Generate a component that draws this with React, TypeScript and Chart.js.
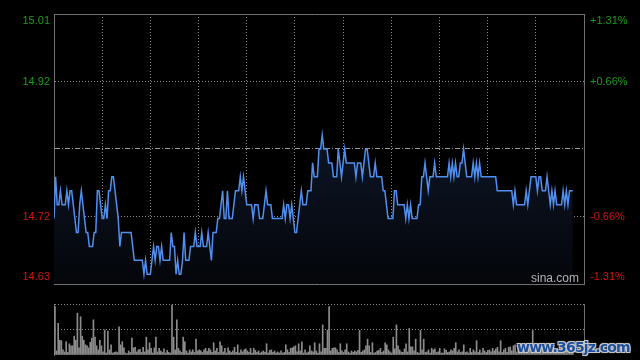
import React, { useEffect, useRef } from 'react';
import { Chart, registerables } from 'chart.js';

Chart.register(...registerables);

const PRICE_MIN = 14.626;
const PRICE_MAX = 15.014;
const SESSION_MINUTES = 330;
const VOLUME_MAX = 100;

const priceLabels = ['14.63', '14.72', '', '14.92', '15.01'];
const percentLabels = ['-1.31%', '-0.66%', '', '+0.66%', '+1.31%'];

// one value per trading minute (HK session, 330 minutes)
const prices = [
  14.72, 14.78, 14.74, 14.74, 14.76, 14.74, 14.74, 14.74, 14.76, 14.74,
  14.76, 14.76, 14.74, 14.72, 14.70, 14.70, 14.74, 14.76, 14.74, 14.72,
  14.70, 14.70, 14.68, 14.68, 14.68, 14.70, 14.70, 14.76, 14.76, 14.74,
  14.72, 14.72, 14.74, 14.72, 14.76, 14.76, 14.78, 14.78, 14.76, 14.74,
  14.72, 14.68, 14.70, 14.70, 14.70, 14.70, 14.70, 14.70, 14.70, 14.68,
  14.66, 14.66, 14.66, 14.66, 14.66, 14.66, 14.64, 14.66, 14.64, 14.64,
  14.64, 14.66, 14.68, 14.66, 14.68, 14.68, 14.66, 14.68, 14.66, 14.66,
  14.66, 14.66, 14.66, 14.70, 14.68, 14.68, 14.64, 14.66, 14.64, 14.64,
  14.66, 14.70, 14.66, 14.66, 14.66, 14.68, 14.68, 14.68, 14.70, 14.68,
  14.68, 14.68, 14.70, 14.68, 14.68, 14.68, 14.70, 14.68, 14.66, 14.70,
  14.70, 14.70, 14.72, 14.72, 14.74, 14.76, 14.72, 14.72, 14.76, 14.72,
  14.72, 14.72, 14.74, 14.76, 14.76, 14.76, 14.78, 14.76, 14.78, 14.76,
  14.74, 14.74, 14.74, 14.74, 14.72, 14.74, 14.74, 14.74, 14.72, 14.72,
  14.72, 14.74, 14.76, 14.74, 14.74, 14.74, 14.72, 14.72, 14.72, 14.72,
  14.72, 14.72, 14.72, 14.74, 14.72, 14.74, 14.74, 14.72, 14.74, 14.72,
  14.70, 14.70, 14.72, 14.74, 14.76, 14.74, 14.74, 14.74, 14.76, 14.76,
  14.76, 14.80, 14.78, 14.78, 14.78, 14.82, 14.82, 14.84, 14.82, 14.82,
  14.82, 14.80, 14.80, 14.80, 14.78, 14.78, 14.78, 14.82, 14.80, 14.78,
  14.80, 14.82, 14.80, 14.80, 14.80, 14.80, 14.80, 14.80, 14.78, 14.80,
  14.80, 14.80, 14.78, 14.80, 14.82, 14.82, 14.80, 14.78, 14.78, 14.78,
  14.80, 14.78, 14.78, 14.78, 14.78, 14.76, 14.76, 14.74, 14.72, 14.72,
  14.72, 14.72, 14.76, 14.76, 14.74, 14.74, 14.74, 14.74, 14.74, 14.72,
  14.74, 14.72, 14.74, 14.72, 14.72, 14.72, 14.72, 14.74, 14.74, 14.78,
  14.78, 14.80, 14.78, 14.76, 14.78, 14.78, 14.78, 14.80, 14.78, 14.78,
  14.78, 14.78, 14.78, 14.78, 14.78, 14.78, 14.80, 14.78, 14.80, 14.78,
  14.80, 14.78, 14.78, 14.80, 14.80, 14.82, 14.80, 14.78, 14.78, 14.78,
  14.78, 14.80, 14.78, 14.80, 14.78, 14.80, 14.78, 14.78, 14.78, 14.78,
  14.78, 14.78, 14.78, 14.78, 14.78, 14.78, 14.76, 14.76, 14.76, 14.76,
  14.76, 14.76, 14.76, 14.76, 14.76, 14.76, 14.74, 14.76, 14.74, 14.74,
  14.74, 14.74, 14.74, 14.74, 14.76, 14.74, 14.76, 14.78, 14.78, 14.78,
  14.78, 14.76, 14.78, 14.78, 14.76, 14.76, 14.76, 14.78, 14.76, 14.74,
  14.76, 14.74, 14.76, 14.74, 14.74, 14.74, 14.74, 14.76, 14.74, 14.76,
  14.74, 14.76, 14.76, 14.76,
];

// relative volume per minute (100 = top of the volume panel)
const volumes = [
  95, 8, 62, 29, 28, 10, 6, 26, 5, 22,
  18, 18, 37, 29, 82, 14, 75, 37, 29, 20,
  18, 14, 25, 33, 69, 35, 18, 10, 29, 18,
  6, 49, 4, 47, 10, 20, 4, 5, 6, 5,
  55, 20, 26, 14, 4, 3, 8, 5, 33, 14,
  15, 6, 10, 11, 5, 15, 6, 35, 10, 24,
  13, 4, 14, 35, 6, 13, 8, 5, 12, 4,
  9, 5, 4, 98, 35, 10, 69, 13, 8, 5,
  35, 26, 8, 4, 10, 6, 10, 5, 31, 8,
  10, 8, 5, 10, 13, 7, 13, 10, 5, 24,
  8, 13, 5, 26, 18, 6, 13, 4, 14, 8,
  5, 8, 15, 5, 20, 4, 10, 6, 10, 12,
  8, 5, 13, 4, 13, 9, 5, 8, 4, 6,
  8, 5, 22, 4, 9, 10, 5, 8, 4, 6,
  4, 8, 4, 5, 20, 10, 5, 13, 14, 16,
  18, 6, 22, 8, 26, 4, 10, 4, 6, 18,
  8, 6, 24, 8, 4, 22, 6, 59, 13, 13,
  49, 95, 8, 13, 14, 14, 10, 5, 22, 8,
  5, 10, 22, 6, 4, 8, 5, 8, 6, 9,
  48, 5, 8, 10, 18, 31, 18, 5, 24, 4,
  5, 8, 9, 13, 5, 8, 24, 20, 10, 6,
  4, 35, 12, 59, 18, 10, 6, 5, 12, 22,
  6, 52, 16, 16, 8, 31, 5, 4, 48, 10,
  31, 5, 6, 10, 4, 13, 10, 12, 5, 6,
  13, 4, 4, 12, 9, 5, 6, 10, 8, 13,
  24, 6, 10, 5, 6, 20, 5, 6, 4, 13,
  5, 10, 6, 28, 5, 10, 4, 13, 8, 5,
  9, 10, 6, 13, 8, 12, 15, 6, 28, 5,
  10, 13, 5, 15, 16, 8, 18, 20, 6, 12,
  8, 6, 14, 10, 5, 8, 12, 6, 48, 10,
  8, 12, 6, 10, 14, 8, 5, 10, 12, 6,
  9, 14, 8, 6, 10, 12, 5, 8, 14, 10,
  6, 9, 12, 8,
];

const GREEN = '#1a9c1a';
const RED = '#d01515';
const BORDER = '#707070';
const GRID = '#8a8a8a';
const FONT = { family: "'Liberation Sans', Arial, sans-serif", size: 11, lineHeight: 1.2 };

function quarterTicks(min: number, max: number) {
  return [0, 1, 2, 3, 4].map((i) => ({ value: min + ((max - min) * i) / 4 }));
}

function edgeLabel(text: string, index: number): string | string[] {
  if (index === 4) return ['', text];
  if (index === 0) return [text, ''];
  return text;
}

export default function App() {
  const priceRef = useRef<HTMLCanvasElement | null>(null);
  const volRef = useRef<HTMLCanvasElement | null>(null);

  useEffect(() => {
    const priceData = prices.map((p, i) => ({ x: i, y: p }));
    const volData = volumes.map((v, i) => ({ x: i, y: v }));

    const priceChart = new Chart(priceRef.current as HTMLCanvasElement, {
      type: 'line',
      data: {
        datasets: [
          {
            data: priceData,
            borderColor: '#4f8ff0',
            borderWidth: 1.5,
            pointRadius: 0,
            tension: 0,
            fill: 'start',
            backgroundColor: (c: any) => {
              const { ctx, chartArea } = c.chart;
              if (!chartArea) return 'rgba(0,0,0,0)';
              const g = ctx.createLinearGradient(0, chartArea.top, 0, chartArea.bottom);
              g.addColorStop(0, '#142038');
              g.addColorStop(0.45, '#0d1526');
              g.addColorStop(1, '#04060a');
              return g;
            },
          },
        ],
      },
      options: {
        responsive: false,
        animation: false,
        events: [],
        layout: { padding: { top: 14, bottom: 16, left: 0, right: 0 } },
        plugins: { legend: { display: false }, tooltip: { enabled: false } },
        scales: {
          x: {
            type: 'linear',
            position: 'bottom',
            min: 0,
            max: SESSION_MINUTES,
            ticks: { display: false, stepSize: 30 },
            afterBuildTicks: (s: any) => {
              s.ticks = Array.from({ length: 12 }, (_, i) => ({ value: i * 30 }));
            },
            afterFit: (s: any) => {
              s.height = 0;
            },
            grid: {
              drawTicks: false,
              color: (c: any) =>
                c.index === 0 || c.index === 11 ? 'rgba(0,0,0,0)' : GRID,
              lineWidth: 1,
            },
            border: { display: true, color: BORDER, width: 1, dash: [1, 2] },
          },
          xTop: {
            type: 'linear',
            position: 'top',
            min: 0,
            max: SESSION_MINUTES,
            ticks: { display: false },
            grid: { display: false, drawTicks: false },
            afterFit: (s: any) => {
              s.height = 0;
            },
            border: { display: true, color: BORDER, width: 1 },
          },
          y: {
            type: 'linear',
            position: 'left',
            min: PRICE_MIN,
            max: PRICE_MAX,
            afterBuildTicks: (s: any) => {
              s.ticks = quarterTicks(PRICE_MIN, PRICE_MAX);
            },
            afterFit: (s: any) => {
              s.width = 54;
            },
            ticks: {
              padding: 0,
              font: FONT,
              color: (c: any) => (c.index >= 2 ? GREEN : RED),
              callback: (_v: any, i: number) => edgeLabel(priceLabels[i], i),
            },
            grid: {
              drawTicks: true,
              tickLength: 4,
              tickColor: 'rgba(0,0,0,0)',
              color: (c: any) =>
                c.index === 0 || c.index === 4 ? 'rgba(0,0,0,0)' : c.index === 2 ? '#9a9a9a' : GRID,
              lineWidth: 1,
            },
            border: {
              display: true,
              color: BORDER,
              width: 1,
              dash: (c: any) => (c.index === 2 ? [5, 2, 1, 2] : [1, 2]),
            },
          },
          yRight: {
            type: 'linear',
            position: 'right',
            min: PRICE_MIN,
            max: PRICE_MAX,
            afterBuildTicks: (s: any) => {
              s.ticks = quarterTicks(PRICE_MIN, PRICE_MAX);
            },
            afterFit: (s: any) => {
              s.width = 56;
            },
            ticks: {
              padding: 0,
              font: FONT,
              color: (c: any) => (c.index >= 2 ? GREEN : RED),
              callback: (_v: any, i: number) => edgeLabel(percentLabels[i], i),
            },
            grid: {
              drawOnChartArea: false,
              drawTicks: true,
              tickLength: 6,
              tickColor: 'rgba(0,0,0,0)',
            },
            border: { display: true, color: BORDER, width: 1 },
          },
        },
      } as any,
    });

    const volChart = new Chart(volRef.current as HTMLCanvasElement, {
      type: 'bar',
      data: {
        datasets: [
          {
            data: volData,
            backgroundColor: '#8c8c8c',
            barThickness: 1,
            borderWidth: 0,
          },
        ],
      },
      options: {
        responsive: false,
        animation: false,
        events: [],
        layout: { padding: { top: 8, bottom: 5, left: 0, right: 0 } },
        plugins: { legend: { display: false }, tooltip: { enabled: false } },
        scales: {
          x: {
            type: 'linear',
            min: -0.6,
            max: SESSION_MINUTES,
            offset: false,
            ticks: { display: false },
            grid: { display: false, drawTicks: false },
            border: { display: false },
            afterFit: (s: any) => {
              s.height = 0;
            },
          },
          y: {
            type: 'linear',
            position: 'left',
            min: 0,
            max: VOLUME_MAX,
            afterBuildTicks: (s: any) => {
              s.ticks = [{ value: 0 }, { value: VOLUME_MAX / 2 }, { value: VOLUME_MAX }];
            },
            afterFit: (s: any) => {
              s.width = 54;
            },
            ticks: { display: false },
            grid: {
              drawTicks: false,
              color: (c: any) => (c.index === 0 ? 'rgba(0,0,0,0)' : GRID),
              lineWidth: 1,
            },
            border: { display: true, color: BORDER, width: 1, dash: [1, 2] },
          },
          yRight: {
            type: 'linear',
            position: 'right',
            min: 0,
            max: VOLUME_MAX,
            afterFit: (s: any) => {
              s.width = 56;
            },
            ticks: { display: false },
            grid: { display: false, drawTicks: false },
            border: { display: true, color: BORDER, width: 1 },
          },
        },
      } as any,
    });

    return () => {
      priceChart.destroy();
      volChart.destroy();
    };
  }, []);

  return (
    <div
      style={{
        position: 'absolute',
        left: 0,
        top: 0,
        width: 640,
        height: 360,
        background: '#000',
        overflow: 'hidden',
      }}
    >
      <canvas
        ref={priceRef}
        width={640}
        height={300}
        style={{ position: 'absolute', left: 0, top: 0, width: 640, height: 300 }}
      />
      <canvas
        ref={volRef}
        width={640}
        height={64}
        style={{ position: 'absolute', left: 0, top: 296, width: 640, height: 64 }}
      />
      <div
        style={{
          position: 'absolute',
          left: 531,
          top: 271,
          fontFamily: "'Liberation Sans', Arial, sans-serif",
          fontSize: 12,
          color: '#b4b4b4',
          lineHeight: '14px',
        }}
      >
        sina.com
      </div>
      <div
        style={{
          position: 'absolute',
          left: 517,
          top: 337,
          fontFamily: "'DejaVu Sans', sans-serif",
          fontWeight: 'bold',
          fontSize: 14,
          color: '#1d4f9e',
          lineHeight: '20px',
          letterSpacing: -0.8,
          textShadow:
            '1px 1px 0 #c8c8c8, -1px -1px 0 #c8c8c8, 1px -1px 0 #c8c8c8, -1px 1px 0 #c8c8c8, 0 0 3px #888',
        }}
      >
        www.365jz.com
      </div>
    </div>
  );
}
